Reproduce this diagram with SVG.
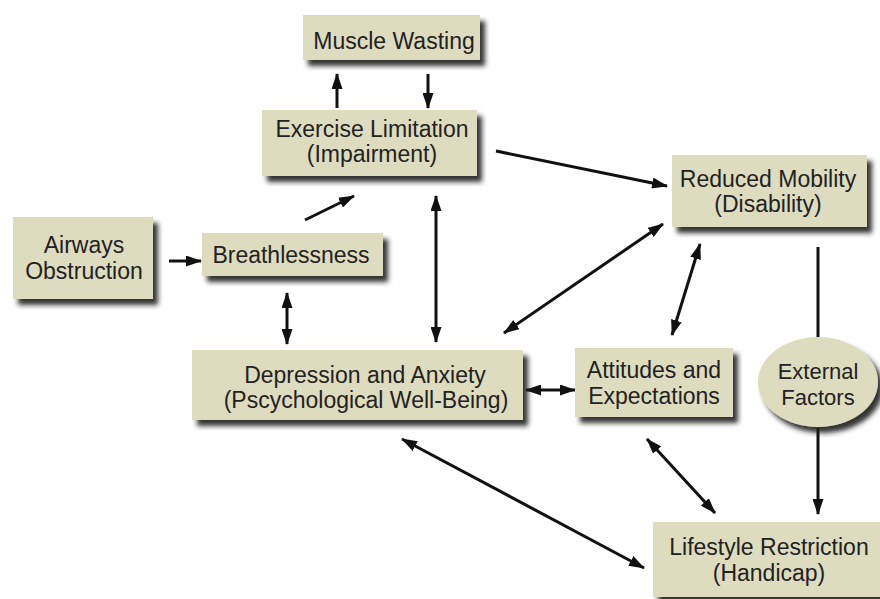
<svg xmlns="http://www.w3.org/2000/svg" width="880" height="599" viewBox="0 0 880 599">
<defs>
<filter id="sh" x="-10%" y="-10%" width="130%" height="140%">
<feDropShadow dx="5" dy="6" stdDeviation="2.5" flood-color="#1e1e1e" flood-opacity="0.9"/>
</filter>
<marker id="ah" viewBox="0 0 16 11" refX="15" refY="5.5" markerUnits="userSpaceOnUse" markerWidth="16" markerHeight="11" orient="auto-start-reverse">
<path d="M0,0 L16,5.5 L0,11 z" fill="#111"/>
</marker>
</defs>
<style>
.box{fill:#dedcbe;filter:url(#sh);}
.t{font-family:"Liberation Sans",Arial,sans-serif;font-size:23px;fill:#222;text-anchor:middle;}
.s{font-size:22px;}
.c line{stroke:#111;stroke-width:3;}
.one{marker-end:url(#ah);}
.two{marker-start:url(#ah);marker-end:url(#ah);}
</style>
<rect width="880" height="599" fill="#fff"/>
<g class="c" id="connectors">
<line class="one" x1="337" y1="108" x2="337" y2="74"/>
<line class="one" x1="428" y1="74" x2="428" y2="108"/>
<line class="one" x1="169" y1="261" x2="201" y2="261"/>
<line class="one" x1="305" y1="220" x2="354" y2="196"/>
<line class="one" x1="496" y1="151" x2="667" y2="186"/>
<line class="two" x1="436" y1="196" x2="436" y2="342"/>
<line class="two" x1="287" y1="293" x2="287" y2="344"/>
<line class="two" x1="504" y1="333" x2="663" y2="224"/>
<line class="two" x1="672" y1="335" x2="700" y2="244"/>
<line class="two" x1="526" y1="390" x2="575" y2="390"/>
<line class="two" x1="402" y1="439" x2="644" y2="568"/>
<line class="two" x1="647" y1="439" x2="715" y2="513"/>
<line x1="818" y1="247" x2="818" y2="337"/>
<line class="one" x1="818" y1="428" x2="818" y2="514"/>
</g>
<g id="muscle"><rect class="box" x="303" y="15" width="177" height="45"/><text class="t" x="394" y="49">Muscle Wasting</text></g>
<g id="exercise"><rect class="box" x="262" y="110" width="215" height="66"/><text class="t" x="372" y="137">Exercise Limitation</text><text class="t" x="372" y="162">(Impairment)</text></g>
<g id="airways"><rect class="box" x="13" y="217" width="140" height="82"/><text class="t" x="84" y="253">Airways</text><text class="t" x="84" y="279">Obstruction</text></g>
<g id="breath"><rect class="box" x="202" y="233" width="181" height="43"/><text class="t" x="291" y="263">Breathlessness</text></g>
<g id="reduced"><rect class="box" x="672" y="155" width="195" height="72"/><text class="t" x="768" y="187">Reduced Mobility</text><text class="t" x="768" y="212">(Disability)</text></g>
<g id="depression"><rect class="box" x="192" y="350" width="331" height="70"/><text class="t" x="365" y="383">Depression and Anxiety</text><text class="t" x="366" y="408">(Pscychological Well-Being)</text></g>
<g id="attitudes"><rect class="box" x="575" y="348" width="158" height="69"/><text class="t" x="654" y="378">Attitudes and</text><text class="t" x="654" y="404">Expectations</text></g>
<g id="external"><ellipse class="box" cx="818" cy="382" rx="60" ry="45"/><text class="t s" x="818" y="379">External</text><text class="t s" x="818" y="405">Factors</text></g>
<g id="lifestyle"><rect class="box" x="653" y="522" width="232" height="75"/><text class="t" x="769" y="555">Lifestyle Restriction</text><text class="t" x="769" y="581">(Handicap)</text></g>
</svg>
